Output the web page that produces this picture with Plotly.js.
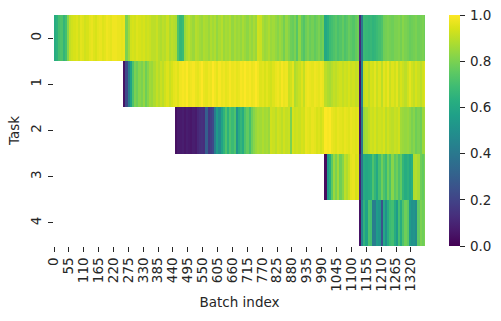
<!DOCTYPE html>
<html>
<head>
<meta charset="utf-8">
<script src="https://cdn.plot.ly/plotly-3.0.1.min.js"></script>
<style>
  html, body { margin: 0; padding: 0; background: #fff; }
  #plot { width: 501px; height: 321px; }
</style>
</head>
<body>
<div id="plot"></div>
<script>
// accuracy per task, one value per 8 batches
var batchStep = 8;
var totalCols = 172;
var firstCol = [0, 32, 56, 125, 141];

var task0 = [
  .62,.64,.70,.72,.66,.70,.82,.91,.93,.94,
  .95,.93,.96,.95,.93,.94,.96,.97,.95,.94,
  .96,.97,.95,.96,.98,.97,.96,.98,.98,.97,
  .97,.96,.97,.80,.86,.93,.94,.93,.95,.94,
  .93,.94,.92,.93,.92,.90,.90,.92,.89,.88,
  .90,.89,.92,.88,.90,.89,.88,.72,.66,.68,
  .85,.88,.90,.87,.85,.89,.88,.86,.85,.88,
  .87,.85,.88,.86,.88,.84,.87,.89,.85,.87,
  .86,.88,.84,.87,.85,.86,.84,.87,.85,.83,
  .86,.84,.87,.85,.93,.92,.87,.85,.86,.88,
  .85,.86,.84,.82,.85,.83,.79,.84,.81,.78,
  .77,.80,.74,.83,.76,.73,.78,.80,.77,.79,
  .76,.78,.80,.77,.79,.60,.63,.68,.70,.72,
  .74,.71,.73,.76,.72,.74,.77,.75,.73,.76,
  .78,.12,.40,.68,.67,.66,.67,.65,.66,.68,
  .70,.72,.78,.79,.80,.79,.78,.80,.80,.81,
  .79,.82,.80,.79,.77,.78,.79,.80,.78,.79,
  .80,.78
];
var task1 = [
  .05,.22,.42,.58,.72,.80,.78,.82,
  .80,.84,.78,.82,.86,.85,.88,.91,.89,.92,
  .90,.93,.95,.92,.94,.96,.97,.95,.98,.99,
  .98,1,.97,.98,.99,.97,.96,.98,1,.97,
  .96,.98,.97,1,.98,.96,.99,.97,.98,.96,
  .97,.99,.97,.98,.96,.97,.99,.98,1,.98,
  .99,.97,.98,1,.98,.95,.96,.94,.96,.94,
  .93,.95,.97,.98,.96,.99,.97,.98,.92,.93,
  .96,.88,.90,.92,.95,.91,.97,.98,.97,.96,
  .98,.97,.96,.98,.97,.90,.88,.87,.89,.91,
  .90,.92,.93,.91,.93,.92,.94,.92,.93,.91,
  .92,.05,.45,.91,.93,.90,.94,.93,.96,.92,
  .95,.90,.96,.94,.97,.92,.95,.93,.96,.91,
  .94,.92,.90,.93,.96,.93,.91,.94,.92,.90,
  .93,.95
];
var task2 = [
  .04,.07,.07,.08,
  .06,.08,.07,.06,.08,.07,.11,.13,.14,.13,
  .30,.16,.18,.22,.42,.55,.48,.58,.65,.72,
  .64,.72,.68,.72,.52,.62,.66,.62,.72,.76,
  .70,.78,.82,.85,.87,.86,.88,.86,.87,.85,
  .93,.92,.90,.93,.92,.90,.93,.91,.92,.80,
  .94,.92,.93,.92,.94,.93,.97,.96,.95,.97,
  .96,.94,.95,.93,.95,1,.99,1,.97,.96,
  .95,.97,.96,.95,.97,.96,.95,.97,.96,.95,
  .96,.05,.40,.85,.87,.90,.93,.92,.94,.91,
  .93,.92,.94,.90,.93,.91,.90,.92,.91,.93,
  .86,.85,.84,.85,.83,.80,.82,.78,.80,.78,
  .85,.86
];
var task3 = [
  .03,.55,.62,.75,.85,
  .80,.86,.78,.82,.90,.88,.92,.96,.97,.94,
  .95,.10,.40,.62,.60,.62,.63,.72,.66,.60,
  .70,.78,.72,.68,.78,.72,.82,.75,.78,.72,
  .76,.66,.62,.64,.60,.63,.88,.89,.87,.78,
  .76,.80
];
var task4 = [
  .05,.45,.65,.58,.72,.70,.42,.42,.55,
  .52,.25,.60,.50,.62,.68,.70,.62,.55,.70,
  .62,.72,.78,.75,.55,.50,.52,.48,.75,.80,
  .78,.80
];

var taskNames = [0, 1, 2, 3, 4];
var xTicks = [0,55,110,165,220,275,330,385,440,495,550,605,660,715,770,825,880,935,990,1045,1100,1155,1210,1265,1320];
var colorbarTicks = [0, 0.2, 0.4, 0.6, 0.8, 1];
var colorbarLabels = ["\u20090.0", "\u20090.2", "\u20090.4", "\u20090.6", "\u20090.8", "\u20091.0"];

// pad each task with empty cells before it starts
var rows = [task0, task1, task2, task3, task4];
var z = rows.map(function(row, i) {
  var padded = [];
  for (var k = 0; k < firstCol[i]; k++) padded.push(null);
  return padded.concat(row);
});

var batchX = [];
for (var c = 0; c < totalCols; c++) batchX.push(c * batchStep + batchStep / 2);

var trace1 = {
  type: "heatmap",
  x: batchX,
  y: taskNames,
  z: z,
  zmin: 0,
  zmax: 1,
  colorscale: "Viridis",
  hoverongaps: false,
  colorbar: {
    thickness: 11,
    thicknessmode: "pixels",
    len: 1,
    lenmode: "fraction",
    x: 1.0646,
    xanchor: "left",
    y: 0.5,
    yanchor: "middle",
    xpad: 0,
    ypad: 0,
    outlinewidth: 0,
    tickmode: "array",
    tickvals: colorbarTicks,
    ticktext: colorbarLabels,
    ticks: "outside",
    ticklen: 5,
    tickwidth: 1,
    tickcolor: "#262626",
    tickfont: { family: "DejaVu Sans", size: 13.5, color: "#262626" }
  }
};

var layout = {
  width: 501,
  height: 321,
  paper_bgcolor: "#fff",
  plot_bgcolor: "#fff",
  margin: { l: 53.7, r: 76, t: 15, b: 75, autoexpand: false },
  font: { family: "DejaVu Sans", size: 13.5, color: "#262626" },
  xaxis: {
    range: [0, 1372],
    tickmode: "array",
    tickvals: xTicks,
    ticktext: xTicks.map(String),
    tickangle: -90,
    ticks: "outside",
    ticklen: 5,
    tickwidth: 1,
    tickcolor: "#262626",
    showgrid: false,
    zeroline: false,
    title: { text: "Batch index", font: { size: 13.5 }, standoff: 6 }
  },
  yaxis: {
    range: [4.5, -0.5],
    tickmode: "array",
    tickvals: taskNames,
    ticktext: taskNames.map(String),
    tickangle: -90,
    ticks: "outside",
    ticklen: 5,
    tickwidth: 1,
    tickcolor: "#262626",
    ticklabelstandoff: 2,
    showgrid: false,
    zeroline: false,
    title: { text: "Task", font: { size: 13.5 }, standoff: 4 }
  }
};

Plotly.newPlot("plot", [trace1], layout, { displayModeBar: false, responsive: false });
</script>
</body>
</html>
